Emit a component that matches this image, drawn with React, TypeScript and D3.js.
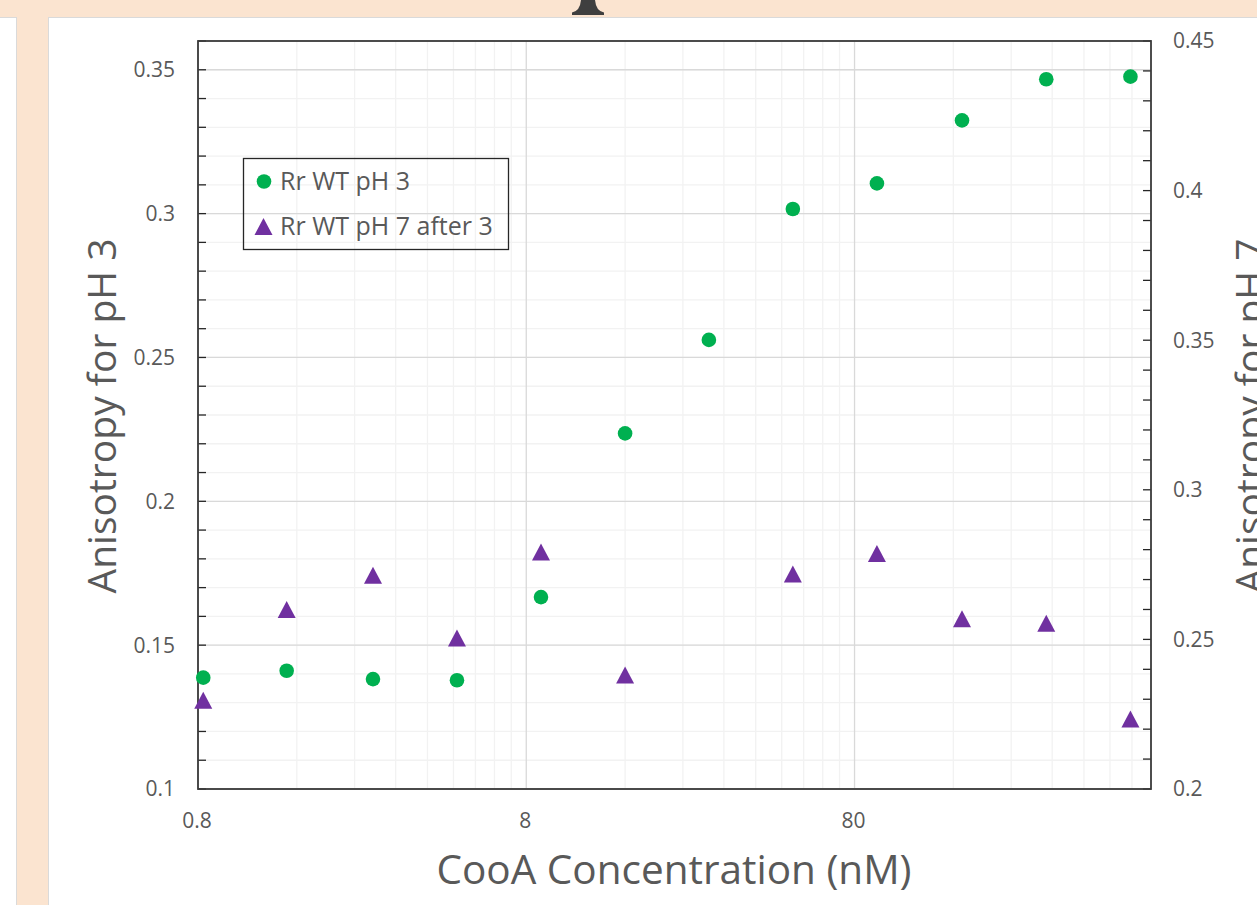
import React from "react";
import * as d3 from "d3";

const concentrations = [0.83, 1.49, 2.73, 4.92, 8.87, 16.0, 28.8, 51.9, 93.6, 170, 307, 554];
const ph3Values = [0.1387, 0.1411, 0.1382, 0.1378, 0.1667, 0.2236, 0.2561, 0.3016, 0.3105, 0.3324, 0.3467, 0.3476];
const ph7Values: (number | null)[] = [0.2297, 0.26, 0.2714, 0.2505, 0.2792, 0.2381, null, 0.2719, 0.2787, 0.2569, 0.2554, 0.2234];
const xTickValues = [0.8, 8, 80];
const xTickLabels = ["0.8", "8", "80"];
const leftTickValues = [0.1, 0.15, 0.2, 0.25, 0.3, 0.35];
const leftTickLabels = ["0.1", "0.15", "0.2", "0.25", "0.3", "0.35"];
const rightTickValues = [0.2, 0.25, 0.3, 0.35, 0.4, 0.45];
const rightTickLabels = ["0.2", "0.25", "0.3", "0.35", "0.4", "0.45"];
const seriesNames = ["Rr WT pH 3", "Rr WT pH 7 after 3"];

const W = 1257;
const H = 905;
const left = 198;
const right = 1151;
const top = 41;
const bottom = 789;

const GREEN = "#00B050";
const PURPLE = "#7030A0";
const PEACH = "#FBE4D0";
const FONT = "'Open Sans', 'Noto Sans', sans-serif";

function tri(cx: number, cy: number, w = 18, h = 17) {
  return `M${cx},${cy - h / 2}L${cx + w / 2},${cy + h / 2}L${cx - w / 2},${cy + h / 2}Z`;
}

export default function App() {
  const x = d3.scaleLog().domain([0.8, 640]).range([left, right]);
  const yL = d3.scaleLinear().domain([0.1, 0.36]).range([bottom, top]);
  const yR = d3.scaleLinear().domain([0.2, 0.45]).range([bottom, top]);

  const leftMinor = d3.range(10, 36.5, 1).map((v) => v / 100);
  const rightMinor = d3.range(20, 45.5, 1).map((v) => v / 100);
  const xMajor = [0.8, 8, 80];
  const xMinor: number[] = [];
  [0.8, 8, 80].forEach((b) => {
    for (let k = 2; k <= 9; k++) {
      const v = b * k;
      if (v < 640) xMinor.push(v);
    }
  });

  return (
    <div style={{ position: "fixed", left: 0, top: 0 }}>
      <svg width={W} height={H} style={{ display: "block", background: "#fff" }}>
        {/* page decoration */}
        <rect x={0} y={0} width={W} height={17} fill={PEACH} />
        <line x1={0} x2={W} y1={17.5} y2={17.5} stroke="#dadada" />
        <rect x={16} y={17} width={32} height={H} fill={PEACH} />
        <line x1={16.5} x2={16.5} y1={17} y2={H} stroke="#dadada" />
        <line x1={48.5} x2={48.5} y1={17} y2={H} stroke="#dadada" />
        <path d="M581,0 L595,0 Q596,11 604,12.5 L604,15 L572,15 L572,12.5 Q580,11 581,0 Z" fill="#3f3f3f" />

        {/* gridlines */}
        {xMinor.map((v, i) => (
          <line key={"xm" + i} x1={x(v)} x2={x(v)} y1={top} y2={bottom} stroke="#f2f2f2" strokeWidth={1.3} />
        ))}
        {leftMinor.map((v, i) => (
          <line key={"ym" + i} x1={left} x2={right} y1={yL(v)} y2={yL(v)} stroke="#f2f2f2" strokeWidth={1.3} />
        ))}
        {xMajor.map((v, i) => (
          <line key={"xM" + i} x1={x(v)} x2={x(v)} y1={top} y2={bottom} stroke="#d9d9d9" strokeWidth={1.3} />
        ))}
        {leftTickValues.map((v, i) => (
          <line key={"yM" + i} x1={left} x2={right} y1={yL(v)} y2={yL(v)} stroke="#d9d9d9" strokeWidth={1.3} />
        ))}

        {/* ticks */}
        {leftMinor.map((v, i) => (
          <line key={"lt" + i} x1={left} x2={left + 8} y1={yL(v)} y2={yL(v)} stroke="#262626" strokeWidth={1.3} />
        ))}
        {rightMinor.map((v, i) => (
          <line key={"rt" + i} x1={right - 8} x2={right} y1={yR(v)} y2={yR(v)} stroke="#262626" strokeWidth={1.3} />
        ))}

        {/* frame */}
        <rect x={left} y={top} width={right - left} height={bottom - top} fill="none" stroke="#3a3a3a" strokeWidth={1.8} />

        {/* tick labels */}
        {leftTickValues.map((v, i) => (
          <text key={"ll" + i} x={175} y={yL(v)} dy="0.35em" textAnchor="end" fontFamily={FONT} fontSize={21} fill="#595959">
            {leftTickLabels[i]}
          </text>
        ))}
        {rightTickValues.map((v, i) => (
          <text key={"rl" + i} x={1173} y={yR(v)} dy="0.35em" textAnchor="start" fontFamily={FONT} fontSize={21} fill="#595959">
            {rightTickLabels[i]}
          </text>
        ))}
        {xTickValues.map((v, i) => (
          <text key={"xl" + i} x={x(v) - 1} y={821} dy="0.35em" textAnchor="middle" fontFamily={FONT} fontSize={21} fill="#595959">
            {xTickLabels[i]}
          </text>
        ))}

        {/* axis titles */}
        <text x={674} y={884} textAnchor="middle" fontFamily={FONT} fontSize={40.5} fill="#595959">
          CooA Concentration (nM)
        </text>
        <text transform={`translate(116,416) rotate(-90)`} textAnchor="middle" fontFamily={FONT} fontSize={39} fill="#595959">
          Anisotropy for pH 3
        </text>
        <text transform={`translate(1264,416) rotate(-90)`} textAnchor="middle" fontFamily={FONT} fontSize={39} fill="#595959">
          Anisotropy for pH 7
        </text>

        {/* data */}
        {ph7Values.map((v, i) =>
          v == null ? null : <path key={"t" + i} d={tri(x(concentrations[i]), yR(v))} fill={PURPLE} />
        )}
        {ph3Values.map((v, i) => (
          <circle key={"c" + i} cx={x(concentrations[i])} cy={yL(v)} r={7.3} fill={GREEN} />
        ))}

        {/* legend */}
        <rect x={243.5} y={158.5} width={265} height={91} fill="none" stroke="#262626" strokeWidth={1.3} />
        <circle cx={264} cy={181.5} r={7.3} fill={GREEN} />
        <path d={tri(263.5, 226.5)} fill={PURPLE} />
        <text x={280} y={181.5} dy="0.35em" fontFamily={FONT} fontSize={25} fill="#595959">
          {seriesNames[0]}
        </text>
        <text x={280} y={226.5} dy="0.35em" fontFamily={FONT} fontSize={25} fill="#595959">
          {seriesNames[1]}
        </text>
      </svg>
    </div>
  );
}
